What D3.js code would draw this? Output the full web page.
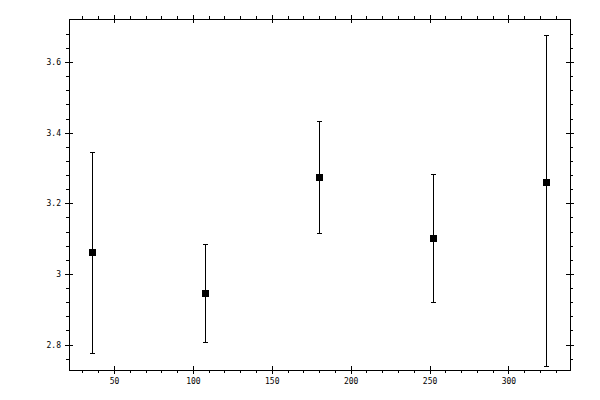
<!DOCTYPE html>
<html>
<head>
<meta charset="utf-8">
<script src="https://cdn.jsdelivr.net/npm/d3@7"></script>
<style>
  body { margin: 0; background: #fff; }
  svg { display: block; }
  .axis path, .axis line { stroke: #000; stroke-width: 1; shape-rendering: crispEdges; }
  .axis text { font-family: "DejaVu Sans Mono", monospace; font-size: 8px; fill: #000; }
</style>
</head>
<body>
<svg id="chart" width="600" height="400"></svg>
<script>
// data
var xValues = [36, 108, 180, 252, 324];
var yValues = [3.061, 2.945, 3.274, 3.101, 3.260];
var yHigh   = [3.344, 3.084, 3.432, 3.282, 3.676];
var yLow    = [2.776, 2.807, 3.115, 2.920, 2.740];

var xMajor = [50, 100, 150, 200, 250, 300];
var yMajor = [2.8, 3, 3.2, 3.4, 3.6];

var margin = {top: 19, right: 30, bottom: 30, left: 69};
var width = 600 - margin.left - margin.right,
    height = 400 - margin.top - margin.bottom;

var svg = d3.select("#chart");
var g = svg.append("g")
  .attr("transform", "translate(" + margin.left + "," + margin.top + ")");

var x = d3.scaleLinear().domain([21.5, 339]).range([0, width]);
var y = d3.scaleLinear().domain([2.728, 3.722]).range([height, 0]);

var xMinor = d3.range(30, 331, 10).filter(function(v) { return xMajor.indexOf(v) < 0; });
var yMinor = d3.range(2.76, 3.71, 0.04).filter(function(v) {
  return yMajor.every(function(m) { return Math.abs(m - v) > 0.001; });
});

// frame
g.append("rect")
  .attr("width", width).attr("height", height)
  .attr("fill", "none").attr("stroke", "#000")
  .attr("shape-rendering", "crispEdges");

// minor ticks, outward only
g.append("g").attr("class", "axis").attr("transform", "translate(0," + height + ")")
  .call(d3.axisBottom(x).tickValues(xMinor).tickSize(3).tickFormat(""));
g.append("g").attr("class", "axis")
  .call(d3.axisTop(x).tickValues(xMinor).tickSize(3).tickFormat(""));
g.append("g").attr("class", "axis")
  .call(d3.axisLeft(y).tickValues(yMinor).tickSize(3).tickFormat(""));
g.append("g").attr("class", "axis").attr("transform", "translate(" + width + ",0)")
  .call(d3.axisRight(y).tickValues(yMinor).tickSize(3).tickFormat(""));

// major ticks, crossing the frame
g.append("g").attr("class", "axis").attr("transform", "translate(0," + height + ")")
  .call(d3.axisBottom(x).tickValues(xMajor).tickSizeInner(4).tickSizeOuter(0).tickPadding(4).tickFormat(d3.format("d")));
g.append("g").attr("class", "axis").attr("transform", "translate(0," + height + ")")
  .call(d3.axisBottom(x).tickValues(xMajor).tickSize(-4).tickFormat(""));
g.append("g").attr("class", "axis")
  .call(d3.axisTop(x).tickValues(xMajor).tickSize(4).tickFormat(""));
g.append("g").attr("class", "axis")
  .call(d3.axisTop(x).tickValues(xMajor).tickSize(-4).tickFormat(""));

g.append("g").attr("class", "axis")
  .call(d3.axisLeft(y).tickValues(yMajor).tickSizeInner(4).tickSizeOuter(0).tickPadding(4).tickFormat(d3.format("")));
g.append("g").attr("class", "axis")
  .call(d3.axisLeft(y).tickValues(yMajor).tickSize(-4).tickFormat(""));
g.append("g").attr("class", "axis").attr("transform", "translate(" + width + ",0)")
  .call(d3.axisRight(y).tickValues(yMajor).tickSize(4).tickFormat(""));
g.append("g").attr("class", "axis").attr("transform", "translate(" + width + ",0)")
  .call(d3.axisRight(y).tickValues(yMajor).tickSize(-4).tickFormat(""));

g.selectAll(".axis .domain").remove();

var points = xValues.map(function(d, i) {
  return {x: d, y: yValues[i], hi: yHigh[i], lo: yLow[i]};
});

var bars = g.selectAll("g.err").data(points).enter().append("g").attr("class", "err");

bars.append("line")
  .attr("x1", function(d) { return Math.round(x(d.x)) + 0.5; })
  .attr("x2", function(d) { return Math.round(x(d.x)) + 0.5; })
  .attr("y1", function(d) { return y(d.hi); })
  .attr("y2", function(d) { return y(d.lo); })
  .attr("stroke", "#000").attr("shape-rendering", "crispEdges");

// caps
bars.append("line")
  .attr("x1", function(d) { return Math.round(x(d.x)) - 2; })
  .attr("x2", function(d) { return Math.round(x(d.x)) + 3; })
  .attr("y1", function(d) { return Math.round(y(d.hi)) + 0.5; })
  .attr("y2", function(d) { return Math.round(y(d.hi)) + 0.5; })
  .attr("stroke", "#000").attr("shape-rendering", "crispEdges");
bars.append("line")
  .attr("x1", function(d) { return Math.round(x(d.x)) - 2; })
  .attr("x2", function(d) { return Math.round(x(d.x)) + 3; })
  .attr("y1", function(d) { return Math.round(y(d.lo)) + 0.5; })
  .attr("y2", function(d) { return Math.round(y(d.lo)) + 0.5; })
  .attr("stroke", "#000").attr("shape-rendering", "crispEdges");

// square markers
bars.append("rect")
  .attr("x", function(d) { return Math.round(x(d.x)) - 3; })
  .attr("y", function(d) { return Math.round(y(d.y)) - 3; })
  .attr("width", 7).attr("height", 7)
  .attr("fill", "#000").attr("shape-rendering", "crispEdges");
</script>
</body>
</html>
